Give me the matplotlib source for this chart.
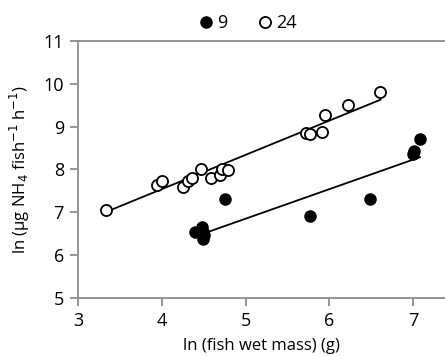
import matplotlib.pyplot as plt
import numpy as np

# ln fish wet mass (g) and ln excretion, 24 group (open circles)
mass_24 = [3.33, 3.94, 4.00, 4.25, 4.31, 4.36, 4.47, 4.59, 4.70, 4.72, 4.79,
           5.72, 5.77, 5.91, 5.95, 6.22, 6.61]
nh4_24 = [7.05, 7.64, 7.73, 7.59, 7.73, 7.80, 8.00, 7.80, 7.88, 8.00, 7.98,
          8.85, 8.83, 8.87, 9.27, 9.50, 9.81]

# 9 group (filled circles)
mass_9 = [4.40, 4.48, 4.49, 4.49, 4.50, 4.76, 5.77, 6.49, 7.00, 7.01, 7.08]
nh4_9 = [6.55, 6.65, 6.55, 6.37, 6.47, 7.31, 6.91, 7.31, 8.37, 8.42, 8.71]

# fitted lines (slope, intercept)
fit_24 = (0.80, 4.34)
fit_9 = (0.69, 3.40)

plt.rcParams['font.family'] = ['Open Sans', 'DejaVu Sans']
grey = '#8c8c8c'

fig = plt.figure(figsize=(4.45, 3.56), dpi=100)
ax = fig.add_axes([0.175, 0.163, 0.825, 0.722])

ax.plot(mass_9, nh4_9, 'o', ms=8, mfc='black', mec='black', label='9', zorder=3)
ax.plot(mass_24, nh4_24, 'o', ms=8, mfc='white', mec='black', mew=1.3, label='24', zorder=3)

for xs, (m, b) in [(mass_24, fit_24), (mass_9, fit_9)]:
    xx = np.array([min(xs), max(xs)])
    if xs is mass_9:
        xx[0] = 4.5
    ax.plot(xx, m * xx + b, color='black', lw=1.3, zorder=2)

ax.set_xlim(3, 7.38)
ax.set_ylim(5, 11)
ax.set_xticks([3, 4, 5, 6, 7])
ax.set_yticks([5, 6, 7, 8, 9, 10, 11])
ax.tick_params(axis='both', direction='out', length=6, color=grey, width=1.3,
               labelsize=13, pad=4)
ax.spines['right'].set_visible(False)
for s in ['left', 'bottom', 'top']:
    ax.spines[s].set_color(grey)
    ax.spines[s].set_linewidth(1.3)

ax.set_xlabel('ln (fish wet mass) (g)', fontsize=12, labelpad=6)
ax.set_ylabel('ln (µg NH$_4$ fish$^{-1}$ h$^{-1}$)', fontsize=12, labelpad=8)

ax.legend(loc='lower center', bbox_to_anchor=(0.46, 1.0), ncol=2, frameon=False,
          fontsize=13, handletextpad=0.1, columnspacing=1.6, borderaxespad=0.1,
          handlelength=1.0)

fig.savefig('out.png', dpi=100)
